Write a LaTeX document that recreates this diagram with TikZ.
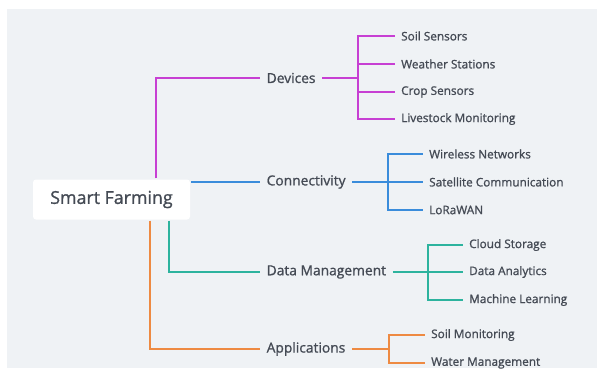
\documentclass[tikz,border=0pt]{standalone}
\usepackage{fontspec}
\setmainfont{Open Sans}[BoldFont=*, BoldFeatures={FakeBold=1.1}]
\definecolor{bgc}{HTML}{EFF2F5}
\definecolor{txt}{HTML}{444A54}
\definecolor{magc}{HTML}{C73FD3}
\definecolor{bluc}{HTML}{3A8CDB}
\definecolor{tealc}{HTML}{2DB39E}
\definecolor{orac}{HTML}{EE8A42}
\begin{document}
\begin{tikzpicture} [x=1pt, y=-1pt, line width=2.4pt, text=txt,
  topic/.style={font=\fontsize{13.8}{15}\bfseries, anchor=west, inner sep=5.5pt},
  leaf/.style={font=\fontsize{11.8}{13}\bfseries, anchor=west, inner sep=5pt}]
 \useasboundingbox (0,0) rectangle (598,369);
 \fill[bgc] (7,9) rectangle (597,368);
 \node[fill=white, rounded corners=3pt, minimum width=157pt, minimum height=40pt, font=\fontsize{17.8}{19}\bfseries] (sf) at (111.5,199.5) {Smart Farming};
 % main topics
 \node[topic] (dev) at (260,78) {Devices};
 \node[topic] (con) at (260,182) {Connectivity};
 \node[topic] (dat) at (260,272) {Data Management};
 \node[topic] (app) at (260,349) {Applications};
 \draw[magc] ([xshift=44.5pt]sf.north) |- (dev.west);
 \draw[bluc] (sf.east |- con.west) -- (con.west);
 \draw[tealc] ([xshift=57.5pt]sf.south) |- (dat.west);
 \draw[orac] ([xshift=38.5pt]sf.south) |- (app.west);
 % leaves
 \node[leaf] (d1) at (395,36) {Soil Sensors};
 \node[leaf] (d2) at (395,64) {Weather Stations};
 \node[leaf] (d3) at (395,92) {Crop Sensors};
 \node[leaf] (d4) at (395,119) {Livestock Monitoring};
 \node[leaf] (c1) at (423,154) {Wireless Networks};
 \node[leaf] (c2) at (423,182) {Satellite Communication};
 \node[leaf] (c3) at (423,210) {LoRaWAN};
 \node[leaf] (m1) at (463,245) {Cloud Storage};
 \node[leaf] (m2) at (463,272) {Data Analytics};
 \node[leaf] (m3) at (463,300) {Machine Learning};
 \node[leaf] (a1) at (425,335) {Soil Monitoring};
 \node[leaf] (a2) at (425,363) {Water Management};
 \coordinate (dj) at (358,78);
 \coordinate (cj) at (388,182);
 \coordinate (mj) at (428,272);
 \coordinate (aj) at (389,349);
 \draw[magc] (dev.east) -- (dj);
 \foreach \n in {d1,d2,d3,d4} \draw[magc] (dj) |- (\n.west);
 \draw[bluc] (con.east) -- (cj);
 \foreach \n in {c1,c2,c3} \draw[bluc] (cj) |- (\n.west);
 \draw[tealc] (dat.east) -- (mj);
 \foreach \n in {m1,m2,m3} \draw[tealc] (mj) |- (\n.west);
 \draw[orac] (app.east) -- (aj);
 \foreach \n in {a1,a2} \draw[orac] (aj) |- (\n.west);
\end{tikzpicture}
\end{document}
